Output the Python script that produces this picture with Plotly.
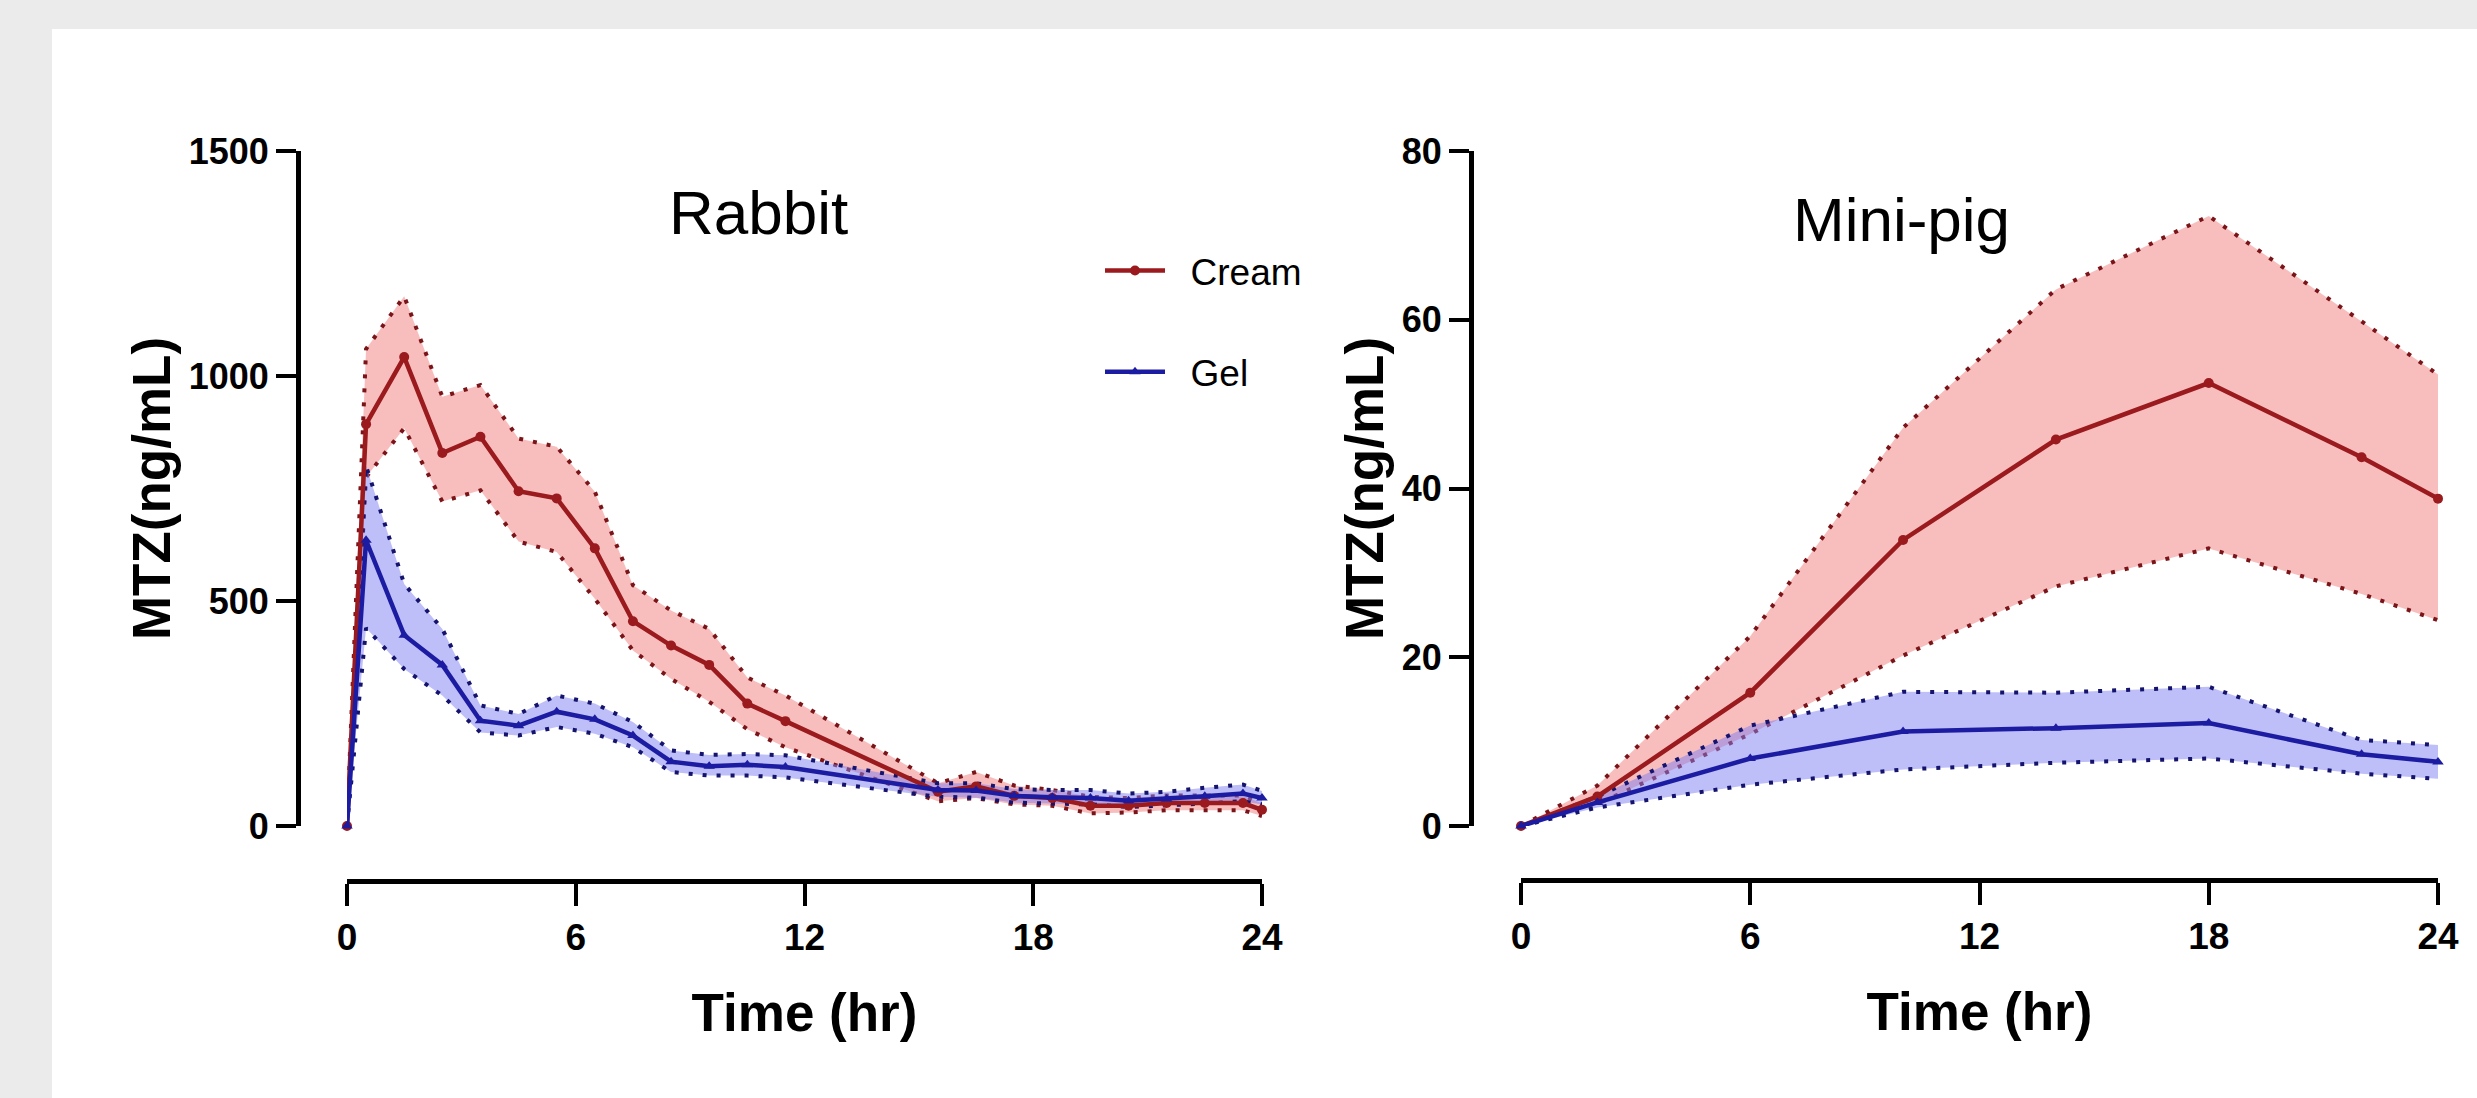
import plotly.graph_objects as go

W, H = 2477, 1098

# ---------------- data ----------------
rabbit_t = [0, 0.5, 1.5, 2.5, 3.5, 4.5, 5.5, 6.5, 7.5, 8.5, 9.5, 10.5, 11.5,
            15.5, 16.5, 17.5, 18.5, 19.5, 20.5, 21.5, 22.5, 23.5, 24]
rabbit_cream = [0, 893, 1042, 829, 865, 744, 728, 617, 455, 401, 358, 272, 233,
                76, 88, 67, 62, 45, 45, 51, 51, 51, 36]
rabbit_cream_hi = [0, 1060, 1177, 954, 980, 861, 843, 743, 535, 479, 438, 330, 290,
                   95, 120, 90, 80, 65, 62, 68, 68, 68, 50]
rabbit_cream_lo = [0, 775, 884, 721, 746, 632, 609, 505, 390, 327, 276, 215, 175,
                   55, 62, 48, 45, 28, 30, 35, 35, 35, 22]
rabbit_gel = [0, 635, 424, 358, 234, 223, 254, 237, 201, 143, 133, 136, 131,
              80, 79, 67, 64, 62, 56, 60, 66, 72, 62]
rabbit_gel_hi = [0, 800, 538, 438, 268, 249, 290, 272, 231, 168, 158, 160, 157,
                 95, 95, 82, 80, 80, 72, 76, 85, 92, 78]
rabbit_gel_lo = [0, 440, 349, 290, 208, 201, 220, 205, 175, 120, 112, 112, 108,
                 65, 63, 52, 50, 48, 42, 45, 50, 55, 48]

pig_t = [0, 2, 6, 10, 14, 18, 22, 24]
pig_cream = [0, 3.5, 15.8, 33.9, 45.8, 52.5, 43.7, 38.8]
pig_cream_hi = [0, 4.8, 22.5, 47.2, 63.6, 72.3, 59.8, 53.5]
pig_cream_lo = [0, 2.6, 10.9, 20.2, 28.4, 32.9, 27.5, 24.4]
pig_gel = [0, 2.8, 8.0, 11.2, 11.6, 12.2, 8.5, 7.6]
pig_gel_hi = [0, 3.5, 11.9, 15.9, 15.8, 16.5, 10.2, 9.6]
pig_gel_lo = [0, 2.2, 4.9, 6.7, 7.5, 8.0, 6.2, 5.6]

x_ticks = [0, 6, 12, 18, 24]
rabbit_y_ticks = [0, 500, 1000, 1500]
pig_y_ticks = [0, 20, 40, 60, 80]

# ---------------- styles ----------------
RED = "#9a1a1e"
RED_DOT = "#7a1418"
RED_FILL = "rgba(242,125,125,0.5)"
BLUE = "#1c1ca2"
BLUE_DOT = "#14146e"
BLUE_FILL = "rgba(125,125,242,0.5)"

FONT = "Liberation Sans, Arial, sans-serif"
NARROW = "Liberation Sans Narrow, Liberation Sans, Arial, sans-serif"
GAP = "\u00a0\u00a0"

fig = go.Figure()


def add_panel(t, cream, c_hi, c_lo, gel, g_hi, g_lo, xa, ya, legend):
    for lo, hi, dot, fillc in [(c_lo, c_hi, RED_DOT, RED_FILL),
                               (g_lo, g_hi, BLUE_DOT, BLUE_FILL)]:
        fig.add_trace(go.Scatter(x=t, y=lo, mode="lines", xaxis=xa, yaxis=ya,
                                 line=dict(color=dot, width=4, dash="4px,10px"),
                                 showlegend=False, hoverinfo="skip"))
        fig.add_trace(go.Scatter(x=t, y=hi, mode="lines", xaxis=xa, yaxis=ya,
                                 fill="tonexty", fillcolor=fillc,
                                 line=dict(color=dot, width=4, dash="4px,10px"),
                                 showlegend=False, hoverinfo="skip"))
    fig.add_trace(go.Scatter(x=t, y=cream, mode="lines+markers", name=GAP + "Cream",
                             xaxis=xa, yaxis=ya, legendgroup="c",
                             line=dict(color=RED, width=4.5),
                             marker=dict(symbol="circle", size=10, color=RED),
                             showlegend=legend, cliponaxis=False))
    fig.add_trace(go.Scatter(x=t, y=gel, mode="lines+markers", name=GAP + "Gel",
                             xaxis=xa, yaxis=ya, legendgroup="g",
                             line=dict(color=BLUE, width=4.5),
                             marker=dict(symbol="triangle-up", size=10, color=BLUE),
                             showlegend=legend, cliponaxis=False))


add_panel(rabbit_t, rabbit_cream, rabbit_cream_hi, rabbit_cream_lo,
          rabbit_gel, rabbit_gel_hi, rabbit_gel_lo, "x", "y", True)
add_panel(pig_t, pig_cream, pig_cream_hi, pig_cream_lo,
          pig_gel, pig_gel_hi, pig_gel_lo, "x2", "y2", False)


def fx(px):
    return px / W


def fy(py):
    return 1 - py / H


y_dom = [fy(826), fy(151)]

xcommon = dict(range=[0, 24], tickvals=x_ticks, ticks="outside", ticklen=22,
               tickwidth=4, tickcolor="black", showline=True, linewidth=5,
               linecolor="black", showgrid=False, zeroline=False, automargin=False,
               tickfont=dict(family=FONT, size=37, color="black", weight="bold"),
               title=dict(text="Time (hr)", standoff=36,
                          font=dict(family=NARROW, size=53, color="black", weight="bold")),
               anchor="free", fixedrange=True)
ycommon = dict(ticks="outside", ticklen=20, tickwidth=4, tickcolor="black",
               showline=True, linewidth=5, linecolor="black", showgrid=False,
               zeroline=False, domain=y_dom, anchor="free", automargin=False,
               tickfont=dict(family=FONT, size=36, color="black", weight="bold"),
               title=dict(text="MTZ(ng/mL)", standoff=0,
                          font=dict(family=FONT, size=53, color="black", weight="bold")),
               fixedrange=True)

fig.update_layout(
    width=W, height=H,
    margin=dict(l=0, r=0, t=0, b=0, pad=0, autoexpand=False),
    paper_bgcolor="#ebebeb",
    plot_bgcolor="rgba(0,0,0,0)",
    xaxis=dict(xcommon, domain=[fx(347), fx(1262)], position=fy(881)),
    yaxis=dict(ycommon, range=[0, 1500], tickvals=rabbit_y_ticks, position=fx(298)),
    xaxis2=dict(xcommon, domain=[fx(1521), fx(2438)], position=fy(880)),
    yaxis2=dict(ycommon, range=[0, 80], tickvals=pig_y_ticks, position=fx(1471)),
    showlegend=True,
    legend=dict(x=fx(1100), y=fy(240), xanchor="left", yanchor="top",
                bgcolor="rgba(0,0,0,0)", font=dict(family=FONT, size=37, color="black"),
                itemwidth=60, tracegroupgap=50, traceorder="grouped"),
    shapes=[dict(type="rect", xref="paper", yref="paper", x0=fx(52), x1=1,
                 y0=0, y1=fy(29), fillcolor="white", line=dict(width=0), layer="below")],
    annotations=[
        dict(text="Rabbit", x=fx(758), y=fy(212), xref="paper", yref="paper",
             showarrow=False, xanchor="center", yanchor="middle",
             font=dict(family=FONT, size=62, color="black")),
        dict(text="Mini-pig", x=fx(1901), y=fy(220), xref="paper", yref="paper",
             showarrow=False, xanchor="center", yanchor="middle",
             font=dict(family=FONT, size=62, color="black")),
    ],
)

fig.write_html(
    "out.html",
    config={"displayModeBar": False, "responsive": False},
    post_script=("document.body.style.margin='0';"
                 "document.body.style.overflow='hidden';"
                 "document.documentElement.style.overflow='hidden';"),
)
